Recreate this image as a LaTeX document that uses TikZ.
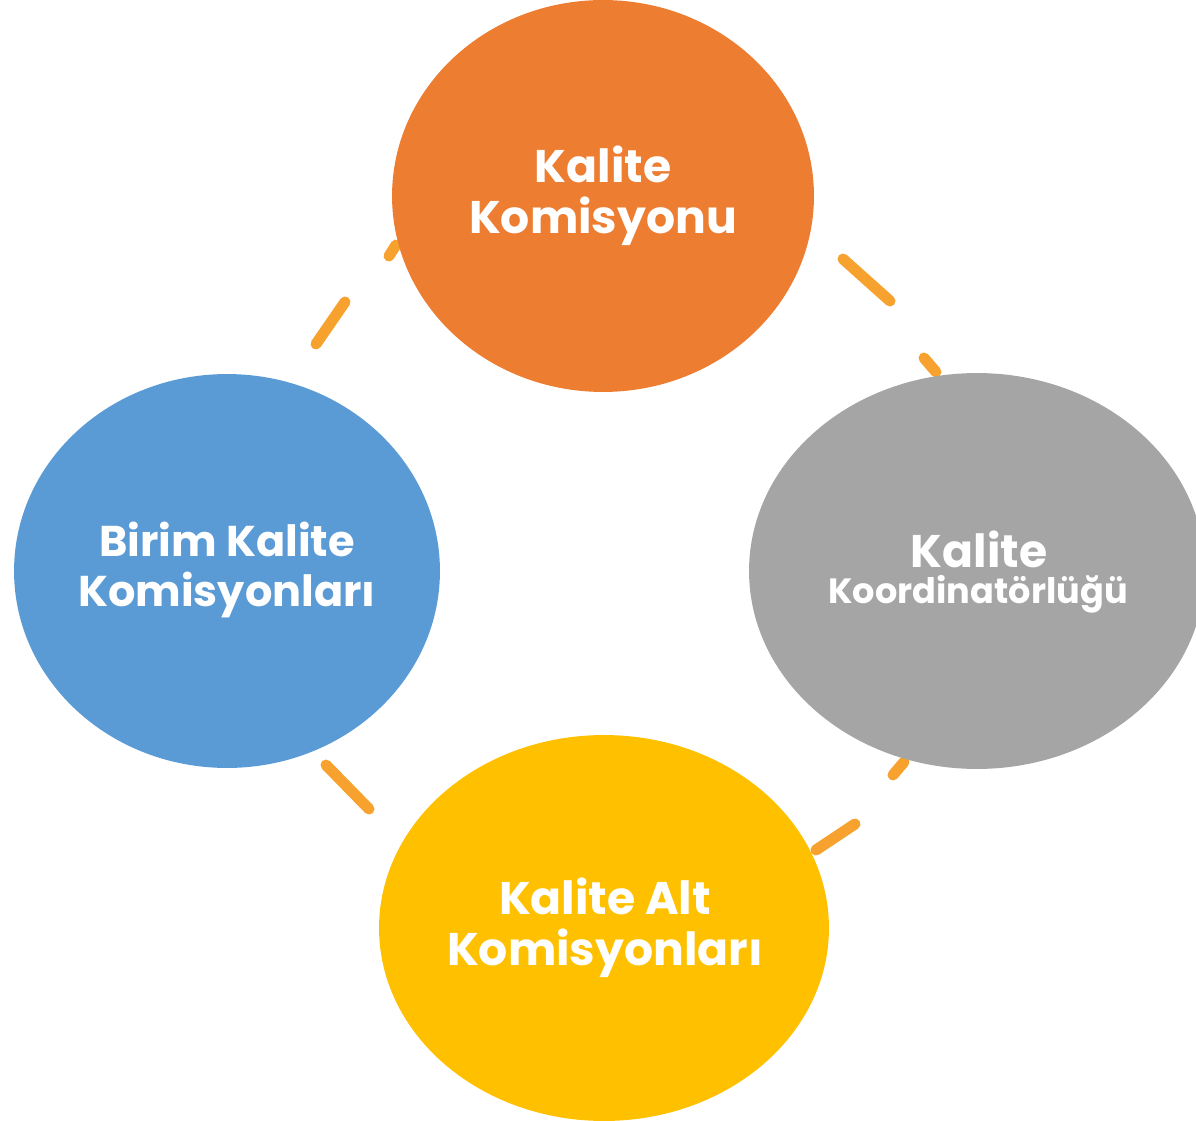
\documentclass[tikz,border=0pt]{standalone}
\usepackage{fontspec}
\setmainfont{Poppins}
\usetikzlibrary{shapes.geometric}
\definecolor{cOrange}{HTML}{ED7D31}
\definecolor{cBlue}{HTML}{5B9BD5}
\definecolor{cGray}{HTML}{A5A5A5}
\definecolor{cGold}{HTML}{FFC000}
\definecolor{cDash}{HTML}{F7A22F}
\tikzset{
  bubble/.style={ellipse, inner sep=0pt},
  label/.style={text=white, align=center},
  dashseg/.style={draw=cDash, line width=0.22cm, line cap=round},
}
\begin{document}
\begin{tikzpicture}[x=0.02cm, y=-0.02cm]
\useasboundingbox (0,0) rectangle (1196,1121);
% dashed cycle fragments
\coordinate (d1a) at (389,256); \coordinate (d1b) at (396,245);
\coordinate (d2a) at (316,344); \coordinate (d2b) at (345,302);
\coordinate (d3a) at (843,259); \coordinate (d3b) at (890,301);
\coordinate (d4a) at (924,358); \coordinate (d4b) at (936,372);
\coordinate (d5a) at (893,775); \coordinate (d5b) at (904,762);
\coordinate (d6a) at (816,850); \coordinate (d6b) at (855,824);
\coordinate (d7a) at (326,765); \coordinate (d7b) at (369,809);
\draw[dashseg] (d1a) -- (d1b);
\draw[dashseg] (d2a) -- (d2b);
\draw[dashseg] (d3a) -- (d3b);
\draw[dashseg] (d4a) -- (d4b);
\draw[dashseg] (d5a) -- (d5b);
\draw[dashseg] (d6a) -- (d6b);
\draw[dashseg] (d7a) -- (d7b);
% ellipses
\node[bubble, fill=cOrange, minimum width=8.44cm, minimum height=7.84cm] (top) at (603,196) {};
\node[label, font=\bfseries\fontsize{26}{29}\selectfont] (topT) at (603,196) {Kalite\\Komisyonu};
\node[bubble, fill=cBlue, minimum width=8.52cm, minimum height=7.88cm] (left) at (227,571) {};
\node[label, font=\bfseries\fontsize{24.5}{28.5}\selectfont] (leftT) at (227,570) {Birim Kalite\\Komisyonları};
\node[bubble, fill=cGray, minimum width=9.12cm, minimum height=7.92cm] (right) at (977,571) {};
\node[label, font=\bfseries\fontsize{26}{28}\selectfont] (rightA) at (979,549) {Kalite};
\node[label, font=\bfseries\fontsize{20}{22}\selectfont] (rightB) at (978,594) {Koordinatörlüğü};
\node[bubble, fill=cGold, minimum width=9.0cm, minimum height=7.72cm] (bottom) at (604,928) {};
\node[label, font=\bfseries\fontsize{26}{29}\selectfont] (bottomT) at (605,928) {Kalite Alt\\Komisyonları};
\end{tikzpicture}
\end{document}
